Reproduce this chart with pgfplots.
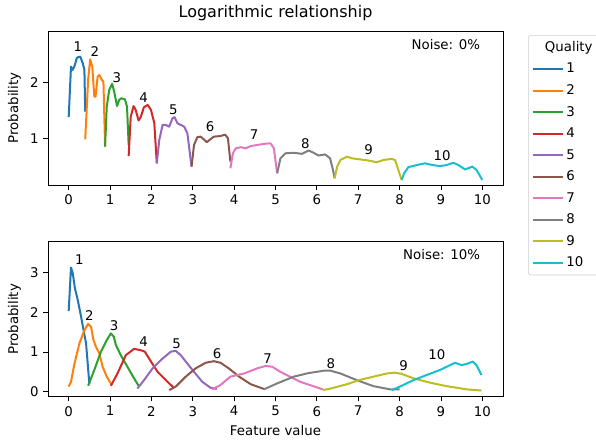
\documentclass[border=0pt]{standalone}
\usepackage{pgfplots}
\pgfplotsset{compat=1.18}
\usepackage{fontspec}
\setmainfont{DejaVu Sans}

\definecolor{tabblue}{HTML}{1F77B4}
\definecolor{taborange}{HTML}{FF7F0E}
\definecolor{tabgreen}{HTML}{2CA02C}
\definecolor{tabred}{HTML}{D62728}
\definecolor{tabpurple}{HTML}{9467BD}
\definecolor{tabbrown}{HTML}{8C564B}
\definecolor{tabpink}{HTML}{E377C2}
\definecolor{tabgray}{HTML}{7F7F7F}
\definecolor{tabolive}{HTML}{BCBD22}
\definecolor{tabcyan}{HTML}{17BECF}

\pgfplotsset{
  panel/.style={
    scale only axis,
    width=341.25pt,
    xmin=-0.5, xmax=10.5,
    xtick={0,1,...,10},
    xtick pos=lower, ytick pos=left,
    tick align=outside,
    major tick length=3.5pt,
    tick style={black, line width=0.6pt},
    axis line style={line width=0.6pt},
    /pgf/number format/assume math mode=true,
    tick label style={font=\fontsize{10}{12}\selectfont},
    label style={font=\fontsize{10}{12}\selectfont},
    ylabel={Probability},
    every axis plot/.append style={line width=1.5pt, no markers, line join=round},
    clip=false,
  },
}

\begin{document}
\begin{tikzpicture}
\useasboundingbox (0,0) rectangle (447pt,332.25pt);

% top panel: noise 0%
\begin{axis}[panel,
  at={(36pt,193.5pt)}, anchor=south west,
  height=115.5pt,
  ymin=0.16, ymax=2.93,
  ytick={1,2},
  title={Logarithmic relationship},
  title style={font=\fontsize{12}{14}\selectfont, yshift=-2pt},
  legend style={at={(1.055,0.974)}, anchor=north west,
    draw=black!20, rounded corners=2pt,
    font=\fontsize{10}{12}\selectfont,
    row sep=3.3pt, inner sep=2.5pt},
  legend cell align=left,
  legend image code/.code={\draw[#1] (0pt,0pt) -- (22.5pt,0pt);},
]
\addlegendimage{empty legend}
\addlegendentry{\hspace{-16pt}Quality}

\addplot[color=tabblue] coordinates {(0,1.38) (0.056,2.29) (0.096,2.23) (0.137,2.29) (0.2,2.45) (0.28,2.47) (0.34,2.35) (0.38,2.23) (0.40,1.48)};
\addlegendentry{1}
\addplot[color=taborange] coordinates {(0.40,0.98) (0.47,2.05) (0.52,2.42) (0.57,2.29) (0.62,1.75) (0.65,1.75) (0.70,2.11) (0.74,2.14) (0.80,2.05) (0.84,2.02) (0.88,0.85)};
\addlegendentry{2}
\addplot[color=tabgreen] coordinates {(0.88,0.85) (0.92,1.57) (0.98,1.87) (1.05,1.98) (1.10,1.84) (1.17,1.58) (1.22,1.69) (1.28,1.72) (1.36,1.70) (1.41,1.57) (1.45,0.88)};
\addlegendentry{3}
\addplot[color=tabred] coordinates {(1.45,0.68) (1.50,1.39) (1.57,1.58) (1.62,1.51) (1.69,1.32) (1.74,1.38) (1.82,1.56) (1.91,1.60) (1.99,1.51) (2.07,1.27) (2.13,0.55)};
\addlegendentry{4}
\addplot[color=tabpurple] coordinates {(2.13,0.55) (2.19,0.97) (2.27,1.24) (2.35,1.24) (2.43,1.21) (2.51,1.36) (2.56,1.38) (2.63,1.27) (2.71,1.24) (2.79,1.21) (2.87,1.09) (2.97,0.49)};
\addlegendentry{5}
\addplot[color=tabbrown] coordinates {(2.97,0.49) (3.03,0.88) (3.11,1.02) (3.19,1.03) (3.27,0.98) (3.34,0.93) (3.42,0.98) (3.51,1.03) (3.67,1.04) (3.75,1.06) (3.79,1.06) (3.85,1.00) (3.91,0.58)};
\addlegendentry{6}
\addplot[color=tabpink] coordinates {(3.91,0.46) (3.97,0.73) (4.04,0.82) (4.16,0.84) (4.28,0.82) (4.40,0.86) (4.56,0.88) (4.72,0.90) (4.88,0.91) (4.96,0.82) (5.04,0.37)};
\addlegendentry{7}
\addplot[color=tabgray] coordinates {(5.04,0.37) (5.12,0.64) (5.24,0.73) (5.44,0.74) (5.64,0.72) (5.80,0.78) (5.92,0.74) (6.04,0.69) (6.20,0.71) (6.32,0.64) (6.39,0.43) (6.43,0.28)};
\addlegendentry{8}
\addplot[color=tabolive] coordinates {(6.43,0.28) (6.49,0.49) (6.57,0.61) (6.73,0.67) (6.85,0.64) (7.05,0.62) (7.25,0.60) (7.45,0.57) (7.61,0.61) (7.81,0.63) (7.89,0.61) (7.97,0.43) (8.05,0.25)};
\addlegendentry{9}
\addplot[color=tabcyan] coordinates {(8.05,0.25) (8.11,0.37) (8.21,0.48) (8.42,0.52) (8.62,0.55) (8.78,0.52) (8.98,0.50) (9.14,0.52) (9.30,0.56) (9.42,0.52) (9.58,0.44) (9.76,0.49) (9.86,0.43) (10.0,0.25)};
\addlegendentry{10}

\begin{scope}[font=\fontsize{10}{12}\selectfont]
\node at (axis cs:0.22,2.65) {1};
\node at (axis cs:0.63,2.56) {2};
\node at (axis cs:1.165,2.09) {3};
\node at (axis cs:1.81,1.73) {4};
\node at (axis cs:2.53,1.52) {5};
\node at (axis cs:3.42,1.21) {6};
\node at (axis cs:4.48,1.06) {7};
\node at (axis cs:5.72,0.91) {8};
\node at (axis cs:7.25,0.80) {9};
\node at (axis cs:9.03,0.68) {10};
\node[anchor=north east, inner sep=0pt] at (rel axis cs:0.95,0.95) {Noise: 0\%};
\end{scope}
\end{axis}

% bottom panel: noise 10%
\begin{axis}[panel,
  at={(36pt,34.7pt)}, anchor=south west,
  height=116.25pt,
  ymin=-0.126, ymax=3.78,
  ytick={0,1,2,3},
  xlabel={Feature value},
]
\addplot[color=tabblue] coordinates {(0,2.03) (0.056,3.13) (0.10,2.98) (0.15,2.61) (0.22,2.31) (0.30,1.89) (0.36,1.55) (0.42,1.22) (0.46,0.71) (0.50,0.19)};
\addplot[color=taborange] coordinates {(0,0.13) (0.056,0.25) (0.14,0.71) (0.26,1.22) (0.38,1.55) (0.47,1.71) (0.54,1.64) (0.60,1.30) (0.66,1.13) (0.74,0.97) (0.82,0.63) (0.92,0.38) (1.04,0.17)};
\addplot[color=tabgreen] coordinates {(0.47,0.15) (0.62,0.55) (0.78,1.01) (0.92,1.30) (1.02,1.47) (1.09,1.39) (1.14,1.18) (1.26,0.92) (1.42,0.63) (1.58,0.34) (1.69,0.15)};
\addplot[color=tabred] coordinates {(1.02,0.15) (1.18,0.46) (1.38,0.92) (1.58,1.08) (1.73,1.05) (1.84,1.01) (1.99,0.76) (2.15,0.50) (2.39,0.25) (2.53,0.11)};
\addplot[color=tabpurple] coordinates {(1.66,0.08) (1.82,0.29) (2.03,0.59) (2.23,0.80) (2.47,1.01) (2.59,1.03) (2.71,0.92) (2.87,0.71) (3.03,0.50) (3.23,0.25) (3.43,0.10) (3.58,0.07)};
\addplot[color=tabbrown] coordinates {(2.43,0.04) (2.59,0.13) (2.83,0.38) (3.07,0.59) (3.31,0.73) (3.51,0.77) (3.67,0.73) (3.87,0.59) (4.12,0.38) (4.40,0.19) (4.72,0.07)};
\addplot[color=tabpink] coordinates {(3.47,0.06) (3.67,0.17) (3.91,0.38) (4.24,0.46) (4.56,0.59) (4.76,0.65) (4.92,0.63) (5.12,0.50) (5.60,0.25) (6.14,0.06)};
\addplot[color=tabgray] coordinates {(4.72,0.06) (5.04,0.21) (5.44,0.38) (5.80,0.47) (6.17,0.53) (6.33,0.53) (6.57,0.46) (6.97,0.29) (7.37,0.14) (7.77,0.06) (8.0,0.06)};
\addplot[color=tabolive] coordinates {(6.14,0.04) (6.33,0.08) (6.73,0.19) (7.01,0.29) (7.37,0.38) (7.69,0.46) (7.89,0.48) (8.05,0.45) (8.33,0.34) (8.73,0.23) (9.14,0.14) (9.62,0.06) (9.98,0.03)};
\addplot[color=tabcyan] coordinates {(7.81,0.04) (8.01,0.13) (8.33,0.29) (8.65,0.42) (8.98,0.55) (9.22,0.67) (9.34,0.73) (9.50,0.67) (9.62,0.70) (9.77,0.76) (9.86,0.67) (9.98,0.42)};

\begin{scope}[font=\fontsize{10}{12}\selectfont]
\node at (axis cs:0.256,3.34) {1};
\node at (axis cs:0.5,1.91) {2};
\node at (axis cs:1.1,1.66) {3};
\node at (axis cs:1.81,1.25) {4};
\node at (axis cs:2.61,1.20) {5};
\node at (axis cs:3.59,0.97) {6};
\node at (axis cs:4.81,0.84) {7};
\node at (axis cs:6.34,0.71) {8};
\node at (axis cs:8.1,0.67) {9};
\node at (axis cs:8.9,0.93) {10};
\node[anchor=north east, inner sep=0pt] at (rel axis cs:0.95,0.95) {Noise: 10\%};
\end{scope}
\end{axis}
\end{tikzpicture}
\end{document}
